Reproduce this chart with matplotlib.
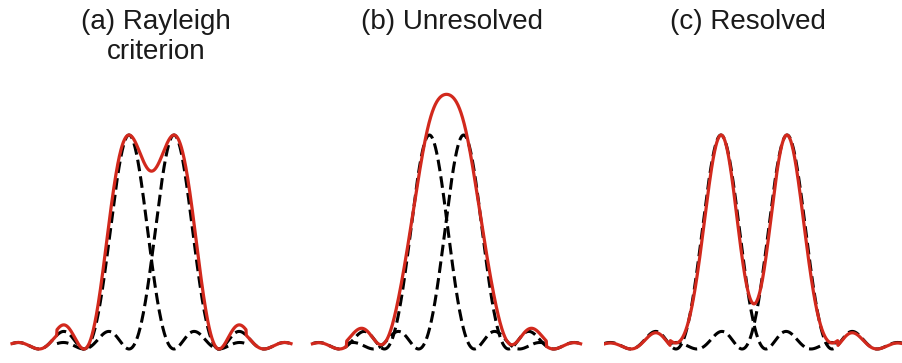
import numpy as np
import matplotlib
matplotlib.use('Agg')
import matplotlib.pyplot as plt

# Panel-Titel und Parameter (Einheiten: Breite des Beugungsscheibchens)
titles = ['(a) Rayleigh\ncriterion', '(b) Unresolved', '(c) Resolved']
separations = [1.0, 0.76, 1.47]      # Abstand der beiden Punktquellen
red_peaks = [1.0, 1.19, 1.0]          # Höhe der roten Summenkurve
panel_centers_px = [151.5, 446.5, 754.0]
title_centers_px = [156, 452, 748]
half_span = 2.6                        # Ausdehnung jeder Kurve um ihr Zentrum
lobe_boost = 0.85                      # Nebenmaxima etwas überhöht wie im Original

red = '#d2291d'
W, H = 902, 363
a_px = 45.0                            # Pixel pro Einheit
unit_px = 214.0                        # Pixel pro Intensitätseinheit
base_px = 349.0


def profile(u):
    s = np.sinc(u) ** 2
    return s * (1 + lobe_boost * (1 - np.exp(-(u / 1.2) ** 4)))


fig = plt.figure(figsize=(W / 100, H / 100), dpi=100)
plt.rcParams['font.family'] = ['Liberation Sans', 'DejaVu Sans']

for title, sep, peak, cx, tx in zip(titles, separations, red_peaks,
                                    panel_centers_px, title_centers_px):
    ax_w = 300.0
    ax = fig.add_axes([(cx - ax_w / 2) / W, 0, ax_w / W, 1])
    ax.set_xlim(-ax_w / 2 / a_px, ax_w / 2 / a_px)
    ax.set_ylim(-(H - base_px) / unit_px, base_px / unit_px)
    ax.axis('off')

    c1, c2 = -sep / 2, sep / 2
    for c in (c1, c2):
        x = np.linspace(c - half_span, c + half_span, 600)
        ax.plot(x, profile(x - c), color='black', lw=2.2,
                dashes=(3.8, 1.7), solid_capstyle='butt')
    x = np.linspace(c1 - half_span, c2 + half_span, 900)
    total = np.where(np.abs(x - c1) <= half_span, profile(x - c1), 0) + \
        np.where(np.abs(x - c2) <= half_span, profile(x - c2), 0)
    total = total * peak / total.max()
    ax.plot(x, total, color=red, lw=2.3)

    fig.text(tx / W, 1 - 9 / H, title, ha='center', va='top',
             fontsize=20, linespacing=1.2, color='#1a1a1a')

fig.savefig('out.png', dpi=100)
